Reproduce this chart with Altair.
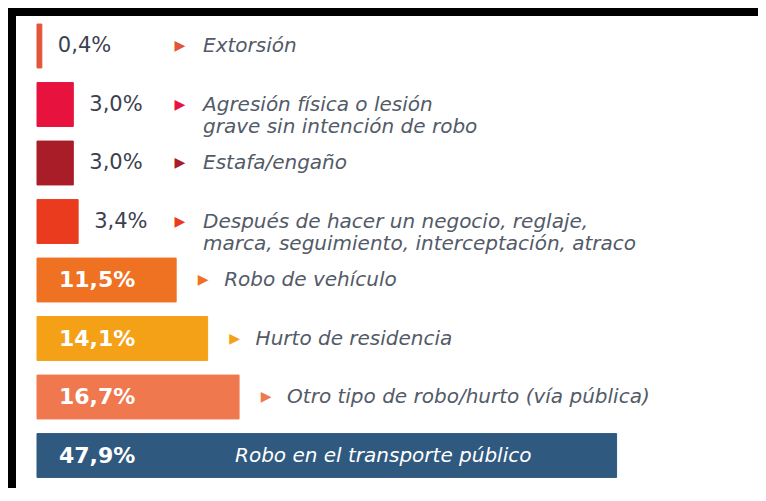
import altair as alt
import pandas as pd

categories = [
    "Extorsión",
    "Agresión física o lesión\ngrave sin intención de robo",
    "Estafa/engaño",
    "Después de hacer un negocio, reglaje,\nmarca, seguimiento, interceptación, atraco",
    "Robo de vehículo",
    "Hurto de residencia",
    "Otro tipo de robo/hurto (vía pública)",
    "Robo en el transporte público",
]
values = [0.4, 3.0, 3.0, 3.4, 11.5, 14.1, 16.7, 47.9]
colors = ["#e2553a", "#e8123e", "#a91d28", "#ea3b1f", "#ef7122", "#f5a118", "#f0784f", "#30597f"]
styles = ["outside", "outside", "outside", "outside", "inside", "inside", "inside", "full"]

df = pd.DataFrame({
    "row": list(range(len(categories))),
    "category": categories,
    "value": values,
    "color": colors,
    "style": styles,
    "label": [f"{v:.1f}%".replace(".", ",") for v in values],
    "zero": [0] * len(values),
})

W, H = 750, 480
FONT = "DejaVu Sans"

xs = alt.Scale(domain=[0, 60], range=[29, 29 + 60 * 12.1])
ys = alt.Scale(range=[8.75, 476.75], paddingInner=0.25, paddingOuter=0.125)

base = alt.Chart(df)
y = alt.Y("row:O", scale=ys, axis=None)

bars = base.mark_bar(strokeWidth=1).encode(
    x=alt.X("value:Q", scale=xs, axis=None),
    y=y,
    color=alt.Color("color:N", scale=None),
    stroke=alt.Stroke("color:N", scale=None),
)

val_out = base.transform_filter("datum.style == 'outside'").mark_text(
    align="left", baseline="middle", dx=16, font=FONT, fontSize=21, color="#3c4150"
).encode(x=alt.X("value:Q", scale=xs), y=y, text="label:N")

val_in = base.transform_filter("datum.style != 'outside'").mark_text(
    align="left", baseline="middle", dx=22, font=FONT, fontSize=22, fontWeight="bold", color="white"
).encode(x=alt.X("zero:Q", scale=xs), y=y, text="label:N")

arrow_out = base.transform_filter("datum.style == 'outside'").mark_text(
    text="▶", align="center", baseline="middle", font=FONT, fontSize=14
).encode(x=alt.value(172), y=y, color=alt.Color("color:N", scale=None))

arrow_in = base.transform_filter("datum.style == 'inside'").mark_text(
    text="▶", align="center", baseline="middle", dx=27, font=FONT, fontSize=14
).encode(x=alt.X("value:Q", scale=xs), y=y, color=alt.Color("color:N", scale=None))

cat_out = base.transform_filter("datum.style == 'outside'").mark_text(
    align="left", baseline="middle", font=FONT, fontSize=20, fontStyle="italic",
    color="#535a68", lineBreak="\n", lineHeight=22
).encode(x=alt.value(195), y=y, text="category:N")

cat_in = base.transform_filter("datum.style == 'inside'").mark_text(
    align="left", baseline="middle", dx=48, font=FONT, fontSize=20, fontStyle="italic",
    color="#535a68"
).encode(x=alt.X("value:Q", scale=xs), y=y, text="category:N")

cat_full = base.transform_filter("datum.style == 'full'").mark_text(
    align="left", baseline="middle", font=FONT, fontSize=20, fontStyle="italic", color="white"
).encode(x=alt.value(227), y=y, text="category:N")

frame_top = alt.Chart(pd.DataFrame({"a": [0]})).mark_rule(color="black", strokeWidth=8).encode(
    x=alt.value(0), x2=alt.value(W), y=alt.value(4)
)
frame_left = alt.Chart(pd.DataFrame({"a": [0]})).mark_rule(color="black", strokeWidth=8).encode(
    x=alt.value(4), y=alt.value(0), y2=alt.value(H)
)

chart = alt.layer(
    bars, val_out, val_in, arrow_out, arrow_in, cat_out, cat_in, cat_full, frame_top, frame_left
).properties(
    width=W, height=H, padding=0, autosize=alt.AutoSizeParams(type="none")
).configure_view(stroke=None).configure(background="white")

chart.save("out.html", embed_options={"renderer": "svg", "actions": False})
